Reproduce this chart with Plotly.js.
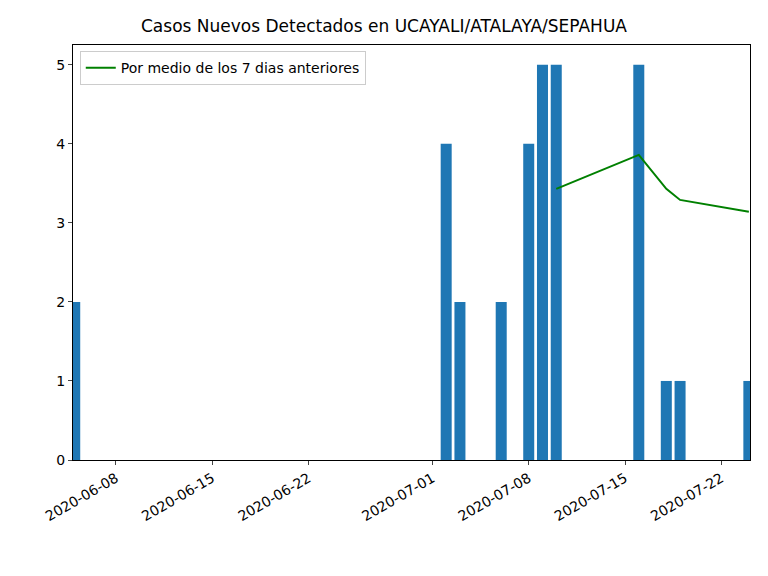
<!DOCTYPE html>
<html>
<head>
<meta charset="utf-8">
<script src="https://cdn.plot.ly/plotly-3.0.1.min.js"></script>
<style>body{margin:0}</style>
</head>
<body>
<div id="chart" style="width:768px;height:576px"></div>
<script>
const barDates = ["2020-06-05", "2020-07-02", "2020-07-03", "2020-07-06", "2020-07-08", "2020-07-09", "2020-07-10", "2020-07-16", "2020-07-18", "2020-07-19", "2020-07-24"];
const barValues = [2, 4, 2, 2, 4, 5, 5, 5, 1, 1, 1];
const avgDates = ["2020-07-10", "2020-07-16", "2020-07-18", "2020-07-19", "2020-07-24"];
const avgValues = [3.43, 3.86, 3.43, 3.29, 3.14];
const tickDates = ["2020-06-08", "2020-06-15", "2020-06-22", "2020-07-01", "2020-07-08", "2020-07-15", "2020-07-22"];

const bars = {
    x: barDates, y: barValues, type: "bar", width: 0.8 * 86400000,
    marker: { color: "#1f77b4" }, showlegend: false,
};
const avg = {
    name: "Por medio de los 7 dias anteriores",
    x: avgDates, y: avgValues, type: "scatter", mode: "lines",
    line: { color: "green", width: 2 },
};
const layout = {
    width: 768, height: 576,
    margin: { l: 73, r: 18, t: 45, b: 116 },
    font: { family: "DejaVu Sans", size: 14, color: "black" },
    title: { text: "Casos Nuevos Detectados en UCAYALI/ATALAYA/SEPAHUA", font: { size: 17 }, y: 0.965 },
    xaxis: {
        type: "date", range: ["2020-06-04 21:00", "2020-07-24 02:00"],
        tickvals: tickDates, ticktext: tickDates, tickangle: -30,
        ticks: "outside", ticklen: 4, showgrid: false, zeroline: false,
        showline: true, mirror: true, linecolor: "black",
    },
    yaxis: {
        range: [0, 5.25], dtick: 1, ticks: "outside", ticklen: 4,
        showgrid: false, zeroline: false, showline: true, mirror: true, linecolor: "black",
    },
    showlegend: true,
    legend: { x: 0.01, y: 0.985, bgcolor: "white", bordercolor: "#ccc", borderwidth: 1, font: { size: 14 } },
    plot_bgcolor: "white",
};
Plotly.newPlot("chart", [bars, avg], layout, { displayModeBar: false });
</script>
</body>
</html>
